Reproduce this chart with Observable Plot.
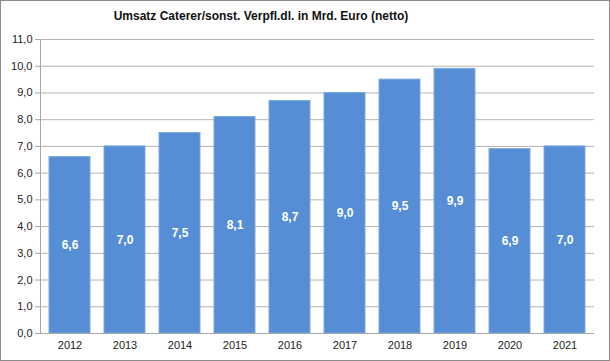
<!DOCTYPE html>
<html>
<head>
<meta charset="utf-8">
<script src="https://cdn.jsdelivr.net/npm/d3@7"></script>
<script src="https://cdn.jsdelivr.net/npm/@observablehq/plot@0.6"></script>
<style>
  body { margin: 0; background: #fff; }
  #frame { position: absolute; left: 0; top: 0; width: 610px; height: 361px; box-sizing: border-box; border: 1px solid #8c8c8c; }
  #title { position: absolute; top: 9px; left: 261px; transform: translateX(-50%); white-space: nowrap;
           font: bold 12px "Liberation Sans", Arial, sans-serif; color: #111; }
  #chart { position: absolute; left: 0; top: 0; }
</style>
</head>
<body>
<div id="frame"></div>
<div id="chart"></div>
<div id="title">Umsatz Caterer/sonst. Verpfl.dl. in Mrd. Euro (netto)</div>
<script>
const years = ["2012","2013","2014","2015","2016","2017","2018","2019","2020","2021"];
const revenue = [6.6, 7.0, 7.5, 8.1, 8.7, 9.0, 9.5, 9.9, 6.9, 7.0];
const yTicks = [0,1,2,3,4,5,6,7,8,9,10,11];

const data = years.map((y, i) => ({year: y, value: revenue[i]}));
const fmt = d => d.toFixed(1).replace(".", ",");

const chart = Plot.plot({
  width: 610,
  height: 361,
  marginLeft: 40,
  marginRight: 16,
  marginTop: 39,
  marginBottom: 28,
  style: {fontFamily: "'Liberation Sans', Arial, sans-serif", fontSize: "11px", color: "#222", background: "transparent"},
  x: {domain: years, paddingInner: 0.25, paddingOuter: 0.125, label: null},
  y: {domain: [0, 11], label: null},
  marks: [
    Plot.gridY(yTicks, {stroke: "#b4b4b4", strokeOpacity: 1}),
    Plot.barY(data, {x: "year", y: "value", fill: "#558ed5", stroke: "#7ea9e0", strokeWidth: 1}),
    Plot.text(data, {x: "year", y: d => d.value / 2, text: d => fmt(d.value), fill: "white", fontWeight: "bold", fontSize: 12}),
    Plot.frame({anchor: "left", stroke: "#a6a6a6"}),
    Plot.ruleY([0], {stroke: "#a6a6a6"}),
    Plot.axisY(yTicks, {tickFormat: fmt, tickSize: 5, tickPadding: 3, stroke: "#a6a6a6", fill: "#222", fontSize: 11}),
    Plot.axisX({tickSize: 0, tickPadding: 8, fill: "#222", fontSize: 11})
  ]
});
document.getElementById("chart").appendChild(chart);
</script>
</body>
</html>
